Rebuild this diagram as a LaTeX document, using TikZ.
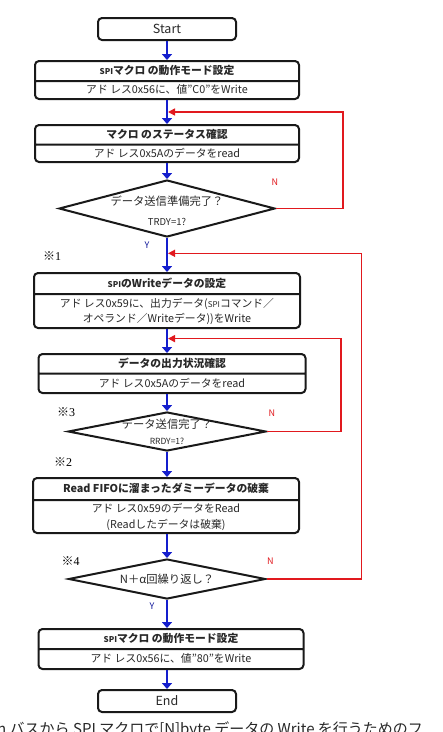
\documentclass[tikz,border=0pt]{standalone}
\usepackage{fontspec}
\setmainfont{Noto Sans CJK JP}
\newfontfamily\notefont{Liberation Serif}
\usetikzlibrary{shapes.geometric, shapes.multipart, arrows.meta, positioning, calc}
\definecolor{flowblue}{RGB}{20,30,205}
\definecolor{backred}{RGB}{225,25,30}
\definecolor{framegray}{RGB}{25,25,25}
\definecolor{textgray}{RGB}{40,40,40}
\newcommand{\partfit}[2]{\raisebox{0pt}[\dimexpr#1pt/2+3.8pt\relax][\dimexpr#1pt/2-3.8pt\relax]{#2}}
\tikzset{
  termbox/.style={rectangle, rounded corners=4pt, draw=framegray, line width=2pt,
                  fill=white, minimum width=138pt, minimum height=22pt, anchor=north,
                  font=\fontsize{12.5}{14}\selectfont, text=textgray},
  stepbox/.style={rectangle split, rectangle split parts=2, rounded corners=4pt,
                  draw=framegray, line width=2pt, fill=white, inner ysep=0pt,
                  inner xsep=2pt, anchor=north, font=\fontsize{10.8}{15}\selectfont,
                  text=textgray},
  decision/.style={diamond, draw=framegray, line width=2pt, fill=white, inner sep=0pt,
                   anchor=north},
  qtext/.style={inner sep=0pt, font=\fontsize{11.3}{13}\selectfont, text=textgray},
  qsub/.style={inner sep=0pt, font=\fontsize{9.5}{10}\selectfont, text=textgray},
  flow/.style={-{Triangle[length=6pt, width=10pt]}, line width=2pt, draw=flowblue},
  back/.style={-{Triangle[length=7pt, width=7pt]}, line width=1.5pt, draw=backred,
               shorten >=1pt},
  nolabel/.style={inner sep=0pt, font=\fontsize{9}{10}\selectfont, text=backred},
  yeslabel/.style={inner sep=0pt, font=\fontsize{9}{10}\selectfont, text=flowblue!75!black},
  note/.style={inner sep=0pt, font=\fontsize{12}{14}\selectfont, text=black},
  caption/.style={inner sep=0pt, font=\fontsize{15}{18}\selectfont, text=textgray},
}

\begin{document}
\begin{tikzpicture}[x=1pt, y=-1pt]
  \useasboundingbox (0,0) rectangle (443,732);
  \clip (0,0) rectangle (443,732);
  \fill[white] (0,0) rectangle (443,732);

  % Start
  \node[termbox] (start) at (167,17) {Start};

  % Mode setting
  \node[stepbox, minimum width=264pt] (b1) at (167,60)
    {\partfit{18}{\bfseries{\footnotesize SPI}マクロ の動作モード設定}%
     \nodepart{two}\partfit{16}{アド レス0x56に、値"C0"をWrite}};

  % Status check
  \node[stepbox, minimum width=264pt] (b2) at (167,124)
    {\partfit{17.5}{\bfseries マクロ のステータス確認}%
     \nodepart{two}\partfit{15.5}{アド レス0x5Aのデータをread}};

  \node[decision, minimum width=216pt, minimum height=57pt] (q1) at (167,179) {};
  \node[qtext] (q1a) at ($(q1)+(0,-7)$) {データ送信準備完了？};
  \node[qsub] (q1b) at ($(q1)+(0,13)$) {TRDY=1?};

  % Write data
  \node[stepbox, minimum width=266pt] (b3) at (167,272)
    {\partfit{19}{\bfseries{\footnotesize SPI}のWriteデータの設定}%
     \nodepart{two}\partfit{32}{\begin{tabular}{@{}c@{}}
       アド レス0x59に、出力データ({\footnotesize SPI}コマンド／\\
       オペランド／Writeデータ))をWrite\end{tabular}}};

  % Output check
  \node[stepbox, minimum width=267pt] (b4) at (172,353)
    {\partfit{17.5}{\bfseries データの出力状況確認}%
     \nodepart{two}\partfit{17.5}{アド レス0x5Aのデータをread}};

  \node[decision, minimum width=198pt, minimum height=39pt] (q2) at (167,411) {};
  \node[qtext] (q2a) at ($(q2)+(0,-7)$) {データ送信完了？};
  \node[qsub, font=\fontsize{8.5}{9}\selectfont] (q2b) at ($(q2)+(0,10)$) {RRDY=1?};

  % Dummy read
  \node[stepbox, minimum width=266pt] (b5) at (166,477)
    {\partfit{20}{\bfseries Read FIFOに溜まったダミーデータの破棄}%
     \nodepart{two}\partfit{31}{\begin{tabular}{@{}c@{}}
       アド レス0x59のデータをRead\\[1pt]
       (Readしたデータは破棄)\end{tabular}}};

  \node[decision, minimum width=197pt, minimum height=40pt] (q3) at (167,558) {};
  \node[qtext] (q3a) at (q3) {N＋α回繰り返し？};

  % Mode reset
  \node[stepbox, minimum width=265pt] (b6) at (171,628)
    {\partfit{18}{\bfseries{\footnotesize SPI}マクロ の動作モード設定}%
     \nodepart{two}\partfit{18}{アド レス0x56に、値"80"をWrite}};

  % End
  \node[termbox] (end) at (167,689) {End};

  % Notes
  \node[note] (m1) at ($(b3.north west)+(19,-16)$) {※{\notefont 1}};
  \node[note] (m3) at ($(q2.west)+(-1,-19)$) {※{\notefont 3}};
  \node[note] (m2) at ($(b5.north west)+(31,-15)$) {※{\notefont 2}};
  \node[note] (m4) at ($(q3.west)+(3,-18)$) {※{\notefont 4}};

  % Y / N
  \node[nolabel] (n1) at ($(q1.east)+(-1,-26)$) {N};
  \node[nolabel] (n2) at ($(q2.east)+(5,-18)$) {N};
  \node[nolabel] (n3) at ($(q3.east)+(4,-18)$) {N};
  \node[yeslabel] (y1) at ($(q1.south)+(-20,7)$) {Y};
  \node[yeslabel] (y2) at ($(q3.south)+(-15,6)$) {Y};

  % Join points
  \coordinate (j1) at ($(b1.south)!0.5!(b2.north)$);
  \coordinate (j2) at ($(q1.south)!0.45!(b3.north)$);
  \coordinate (j3) at ($(b3.south)!0.4!(b3.south |- b4.north)$);

  % Arrows
  \draw[flow] (start) -- (b1);
  \draw[flow] (b1) -- (b2);
  \draw[flow] (b2) -- (q1);
  \draw[flow] (q1) -- (b3);
  \draw[flow] (b3) -- (b3 |- b4.north);
  \draw[flow] (b4.south -| q2) -- (q2);
  \draw[flow] (q2) -- (q2 |- b5.north);
  \draw[flow] (b5.south -| q3) -- (q3);
  \draw[flow] (q3) -- (q3 |- b6.north);
  \draw[flow] (b6.south -| end) -- (end);

  % Loops back
  \draw[back] (q1.east) -- ++(67,0) |- (j1);
  \draw[back] (q2.east) -- ++(74,0) |- (j3);
  \draw[back] (q3.east) -- ++(95,0) |- (j2);

  % Caption
  \node[caption, anchor=base west] (cap) at (-3,734)
    {n バスから SPI マクロで[N]byte データの Write を行うためのフ};
\end{tikzpicture}
\end{document}
